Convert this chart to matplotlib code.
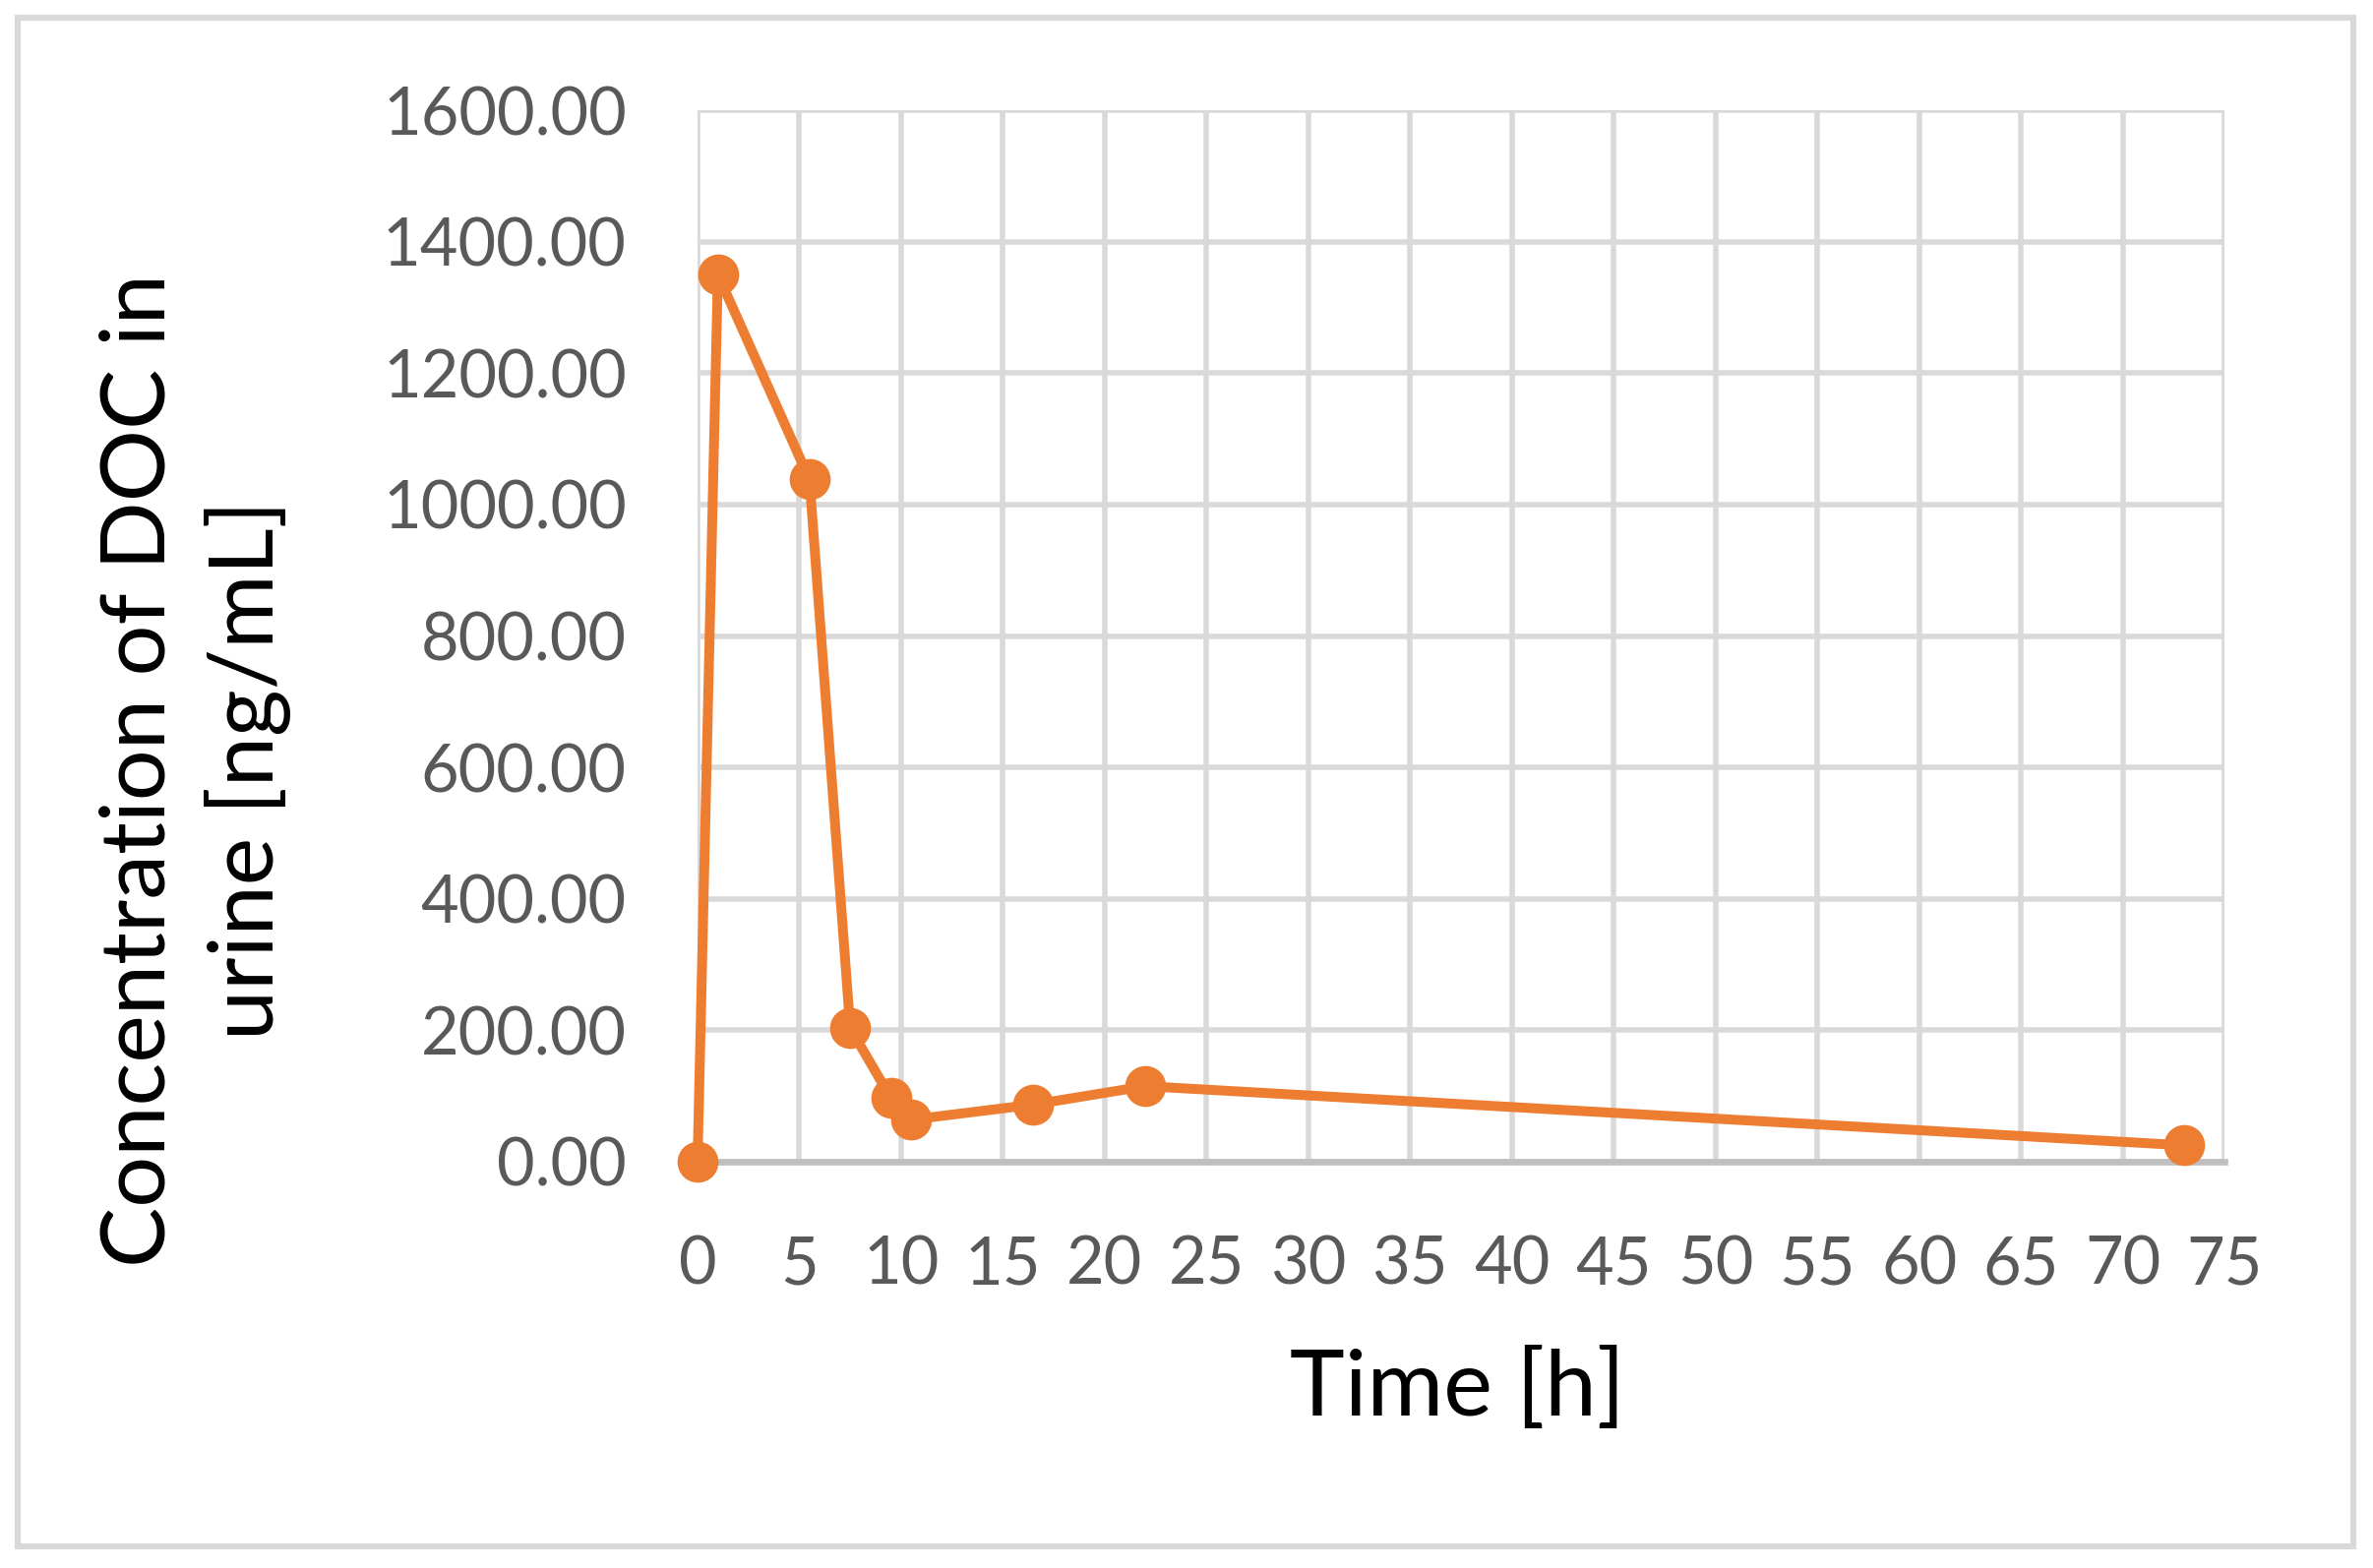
import matplotlib
matplotlib.use("Agg")
import matplotlib.pyplot as plt
from matplotlib.patches import Rectangle

time_h = [0, 1, 5.5, 7.5, 9.5, 10.5, 16.5, 22, 73]
conc = [0, 1350, 1038, 203, 97, 64, 87, 115, 25]
x_ticks = list(range(0, 80, 5))
y_ticks = [0, 200, 400, 600, 800, 1000, 1200, 1400, 1600]

plt.rcParams['font.family'] = ['Lato', 'DejaVu Sans']

W, H = 2412, 1594
dpi = 200
fig = plt.figure(figsize=(W / dpi, H / dpi), dpi=dpi)
fig.patch.set_facecolor('white')

fig.patches.append(Rectangle((18 / W, 1 - 1572 / H), (2392 - 18) / W, (1572 - 18) / H,
                             transform=fig.transFigure, fill=False,
                             edgecolor='#d9d9d9', linewidth=2.2))

left, right, top, bottom = 709, 2261, 112, 1181
ax = fig.add_axes([left / W, 1 - bottom / H, (right - left) / W, (bottom - top) / H])
ax.set_xlim(0, 75)
ax.set_ylim(0, 1600)
ax.set_xticks(x_ticks)
ax.set_yticks(y_ticks)
ax.set_yticklabels([f"{v:.2f}" for v in y_ticks])
ax.grid(True, color='#d9d9d9', linewidth=2.0)
ax.set_axisbelow(True)
for s in ['top', 'right', 'left']:
    ax.spines[s].set_visible(False)
ax.spines['bottom'].set_color('#bfbfbf')
ax.spines['bottom'].set_linewidth(2.4)
ax.tick_params(axis='both', length=0, labelsize=24, labelcolor='#595959')
ax.tick_params(axis='x', pad=27)
ax.tick_params(axis='y', pad=26)

ax.plot(time_h, conc, color='#ED7D31', linewidth=3.6, marker='o',
        markersize=14, clip_on=False, zorder=5)

fig.text(1481 / W, 1 - 1412 / H, "Time [h]", ha='center', va='center',
         fontsize=34, color='black')
fig.text(198 / W, 1 - 783 / H, "Concentration of DOC in\nurine [ng/mL]",
         ha='center', va='center', rotation=90, fontsize=33, color='black',
         multialignment='center', linespacing=1.35)

fig.savefig("out.png", dpi=dpi, facecolor='white')
